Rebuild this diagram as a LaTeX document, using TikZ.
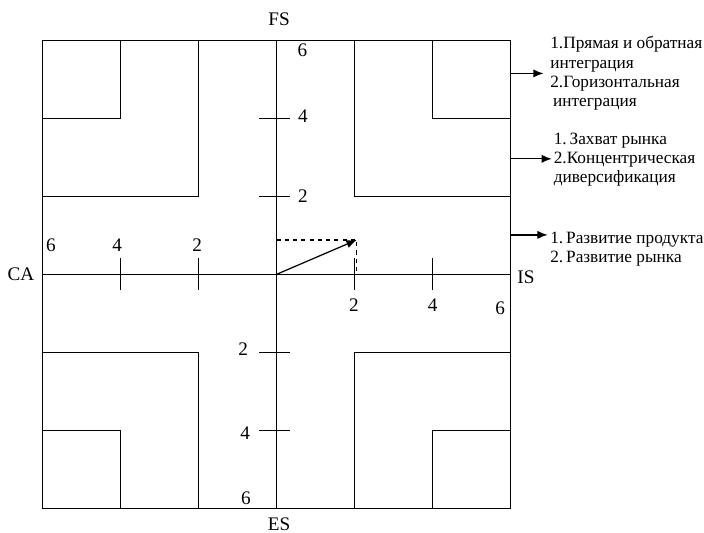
\documentclass[tikz,border=0pt]{standalone}
\usepackage{fontspec}
\setmainfont{Liberation Serif}
\usetikzlibrary{arrows.meta}
\begin{document}
\begin{tikzpicture}[line width=0.9pt,
      num/.style={font=\fontsize{14}{16}\selectfont},
      axlbl/.style={font=\fontsize{14}{16}\selectfont},
      txt/.style={anchor=west,align=left,inner sep=0pt,
        font=\fontsize{12.6}{14}\selectfont},
      arr/.style={-{Latex[length=7.5pt,width=6pt]}}]
      \useasboundingbox (-7.095,-6.633) rectangle (10.956,7.033);
      % outer square and corner boxes
      \draw (-6,-6) rectangle (6,6);
      \foreach \sx/\sy in {-1/1,1/1,-1/-1,1/-1}{
        \draw (6*\sx,6*\sy) rectangle (2*\sx,2*\sy);
        \draw (6*\sx,6*\sy) rectangle (4*\sx,4*\sy);
      }
      % axes
      \draw (-6,0)--(6,0);
      \draw (0,-6)--(0,6);
      \foreach \t in {-4,-2,2,4}{
        \draw (\t,-0.4)--(\t,0.42);
        \draw (-0.45,\t)--(0.35,\t);
      }
      \node[num] (ca6) at (-5.79,0.75) {6};
      \node[num] (ca4) at (-4.09,0.75) {4};
      \node[num] (ca2) at (-2.04,0.75) {2};
      \node[num] (is2) at (1.98,-0.79) {2};
      \node[num] (is4) at (4.0,-0.79) {4};
      \node[num] (is6) at (5.73,-0.86) {6};
      \node[num] (fs6) at (0.66,5.75) {6};
      \node[num] (fs4) at (0.67,4.06) {4};
      \node[num] (fs2) at (0.67,2.01) {2};
      \node[num] (es2) at (-0.86,-1.92) {2};
      \node[num] (es4) at (-0.81,-4.07) {4};
      \node[num] (es6) at (-0.79,-5.74) {6};
      \node[axlbl] (fs) at (0.06,6.53) {FS};
      \node[axlbl] (es) at (0.06,-6.40) {ES};
      \node[axlbl] (ca) at (-6.56,0) {CA};
      \node[axlbl] (is) at (6.39,-0.07) {IS};
      % position vector
      \coordinate (o) at (0,0);
      \coordinate (v) at (2.05,0.88);
      \draw[dashed] (o|-v)--(v)--(v|-o);
      \draw[arr] (o)--(v);
      % strategies
      \node[txt] (t1) at (7.0,5.15) {1.Прямая и обратная\\интеграция\\2.Горизонтальная\\\,интеграция};
      \node[txt] (t2) at (7.09,2.94) {1.\,Захват рынка\\2.Концентрическая\\диверсификация};
      \node[txt] (t3) at (7.0,0.64) {1.\,Развитие продукта\\2.\,Развитие рынка};
      \coordinate (e1) at (6,5.15);
      \coordinate (e2) at (6,2.96);
      \coordinate (e3) at (6,1.01);
      \draw[arr,shorten >=4.5pt] (e1)--(e1-|t1.west);
      \draw[arr,shorten >=1pt] (e2)--(e2-|t2.west);
      \draw[arr,shorten >=1.5pt] (e3)--(e3-|t3.west);
\end{tikzpicture}
\end{document}
